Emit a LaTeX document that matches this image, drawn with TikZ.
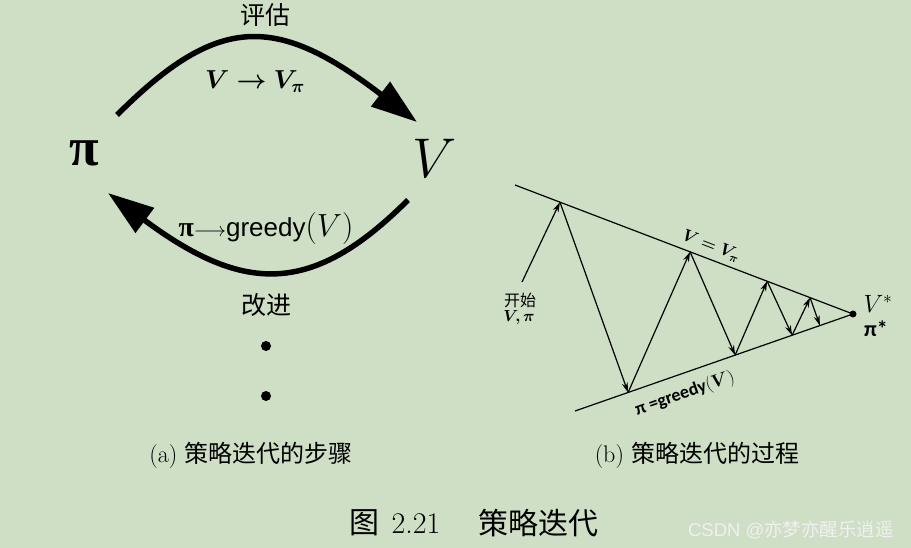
\RequirePackage{fix-cm}
\documentclass[tikz,border=0pt]{standalone}
\usepackage{fontspec}
\usepackage{bm}
\usetikzlibrary{arrows.meta,calc}
\newfontfamily\cjk{Noto Sans CJK SC}
\newfontfamily\arialf{Liberation Sans}
\newfontfamily\serifgr{Liberation Serif}
\newfontfamily\calib{Carlito}
\newcommand\fsz[1]{\fontsize{#1}{#1}\selectfont}
\definecolor{paper}{RGB}{206,223,197}

\begin{document}
\begin{tikzpicture}[x=1pt, y=-1pt, >=Stealth,
  bigarc/.style={line width=5.5pt, -{Triangle[length=46pt,width=30pt]}},
  rail/.style={line width=1.2pt},
  zig/.style={line width=1.2pt, -{Stealth[length=10pt,width=6pt]}},
  dot/.style={circle, fill, inner sep=0pt, minimum size=#1}]
  \fill[paper] (0,0) rectangle (911,548);
  \useasboundingbox (0,0) rectangle (911,548);

  % (a) the two steps
  \node (pi) at (84,153) {\serifgr\bfseries\fsz{54}π};
  \node (V)  at (435,158) {\fsz{56}$V$};
  \node (eval) at (265,15) {\cjk\fsz{25}评估};
  \node (evalf) at (255,82) {\fsz{26}$\bm{V \rightarrow V_{\pi}}$};
  \node (impr) at (266,305) {\cjk\fsz{25}改进};
  \node (imprf) at (266,229) {\fsz{28}{\serifgr\bfseries π}\fsz{20}$\longrightarrow$\fsz{26}{\arialf greedy}\fsz{32}$(V)$};
  \coordinate (evalS) at (117,115);
  \coordinate (evalE) at (417,122);
  \coordinate (imprS) at (408,200);
  \coordinate (imprE) at (108,193);
  \draw[bigarc] (evalS) .. controls (218,14) and (276,14) .. (evalE);
  \draw[bigarc] (imprS) .. controls (313,295) and (245,295) .. (imprE);
  \node[dot=10pt] (d1) at (266,346) {};
  \node[dot=10pt] (d2) at (266,396) {};

  % (b) the process
  \coordinate (u0) at (515,185);
  \coordinate (l0) at (575,411);
  \coordinate (opt) at (853,314);
  \coordinate (s0) at (522,282);
  \draw[rail] (u0) -- (opt);
  \draw[rail] (l0) -- (opt);
  \node[dot=7pt] (optdot) at (opt) {};
  \coordinate (u1) at ($(u0)!0.133!(opt)$);
  \coordinate (u2) at ($(u0)!0.518!(opt)$);
  \coordinate (u3) at ($(u0)!0.746!(opt)$);
  \coordinate (u4) at ($(u0)!0.873!(opt)$);
  \coordinate (l1) at ($(l0)!0.191!(opt)$);
  \coordinate (l2) at ($(l0)!0.576!(opt)$);
  \coordinate (l3) at ($(l0)!0.781!(opt)$);
  \coordinate (l4) at ($(l0)!0.881!(opt)$);
  \foreach \a/\b in {s0/u1,u1/l1,l1/u2,u2/l2,l2/u3,u3/l3,l3/u4,u4/l4}
    \draw[zig] (\a) -- (\b);
  \node[rotate=-21] (vline) at (711,246) {\fsz{17}$\bm{V = V_{\pi}}$};
  \node[rotate=19.2] (pline) at (685,394) {\calib\bfseries\fsz{18}π =greedy\fsz{18}$(\bm{V})$};
  \node (start) at (520,300) {\cjk\fsz{16}开始};
  \node (startf) at (519,318) {\fsz{16}$\bm{V,\pi}$};
  \node (vstar) at (878,304) {\fsz{25}$V^{*}$};
  \node (pistar) at (876,329) {\calib\bfseries\fsz{22}π*};

  % captions
  \node (capa) at (251,455) {\fsz{24}(a) {\cjk 策略迭代的步骤}};
  \node (capb) at (697,455) {\fsz{24}(b) {\cjk 策略迭代的过程}};
  \node (capfig) at (364,523) {\cjk\fsz{30}图};
  \node (capnum) at (416,524) {\fsz{30}2.21};
  \node (captxt) at (538,523) {\cjk\fsz{30}策略迭代};
  \node[text=white!88!gray] (mark) at (791,530) {\fsz{18.5}{\arialf CSDN @}{\cjk 亦梦亦醒乐逍遥}};
\end{tikzpicture}
\end{document}
